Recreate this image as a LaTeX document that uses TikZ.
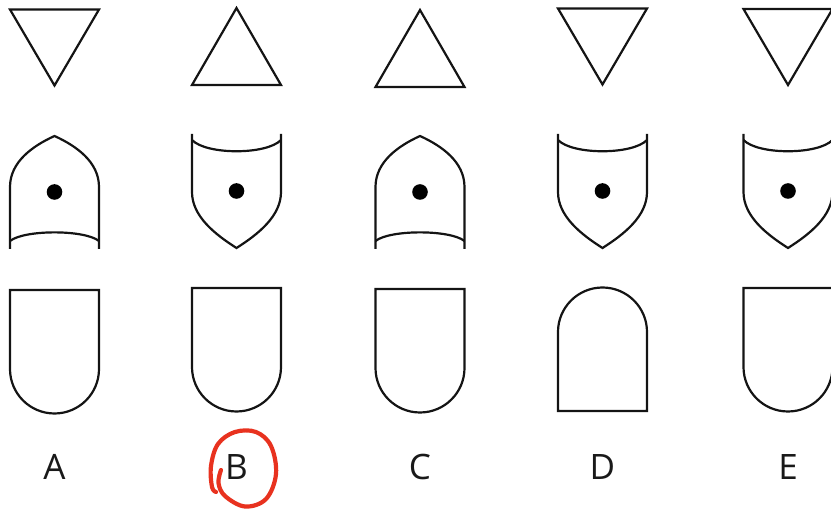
\documentclass[tikz,border=0pt]{standalone}
\usepackage{fontspec}
\setmainfont{Open Sans}
\definecolor{penred}{HTML}{E8321F}
\tikzset{
  shp/.style={draw=black!92, line width=2.2pt, line join=miter},
  lbl/.style={anchor=base, inner sep=0pt, font=\fontsize{35}{40}\selectfont, text=black!90},
  pointed/.pic={
    \draw[shp] (-44.5,249) -- (-44.5,187) .. controls (-44.5,162) and (-22,146) .. (0,136)
      .. controls (22,146) and (44.5,162) .. (44.5,187) -- (44.5,249);
    \draw[shp] (-44.5,241) .. controls (-30,229.5) and (30,229.5) .. (44.5,241);
    \fill[black] (0,192) circle[radius=7.8pt];
  },
  shield/.pic={
    \draw[shp] (-44.5,134) -- (-44.5,192) .. controls (-44.5,216) and (-22,234) .. (0,248)
      .. controls (22,234) and (44.5,216) .. (44.5,192) -- (44.5,134);
    \draw[shp] (-44.5,140) .. controls (-30,155) and (30,155) .. (44.5,140);
    \fill[black] (0,191) circle[radius=7.8pt];
  },
  tridown/.pic={
    \draw[shp] (-44.5,9.5) -- (44.5,9.5) -- (0,85.5) -- cycle;
  },
  triup/.pic={
    \draw[shp] (-44.5,86) -- (44.5,86) -- (0,9) -- cycle;
  },
  cup/.pic={
    \draw[shp] (-44.5,289) -- (44.5,289) -- (44.5,368) arc[start angle=0, end angle=-180, radius=44.5pt] -- cycle;
  },
  arch/.pic={
    \draw[shp] (-44.5,411) -- (44.5,411) -- (44.5,332) arc[start angle=0, end angle=180, radius=44.5pt] -- cycle;
  }
}
\begin{document}
\begin{tikzpicture}[x=1pt, y=-1pt]
\useasboundingbox (0,0) rectangle (831,510);
\begin{scope}
\clip (0,0) rectangle (831,510);
% row 1
\pic at (54.5,0) {tridown};
\pic at (236.5,-1) {triup};
\pic at (420,1) {triup};
\pic at (602.5,-1) {tridown};
\pic at (788,-0.5) {tridown};
% row 2
\pic at (54.5,0) {pointed};
\pic at (236.5,0) {shield};
\pic at (420,0) {pointed};
\pic at (602.5,0) {shield};
\pic at (788,0) {shield};
% row 3
\pic at (54.5,1) {cup};
\pic at (236.5,-1) {cup};
\pic at (420,0) {cup};
\pic at (602.5,0) {arch};
\pic at (788,-1) {cup};
\end{scope}
% labels
\node[lbl] (la) at (54.5,480) {A};
\node[lbl] (lb) at (236.5,480) {B};
\node[lbl] (lc) at (420,480) {C};
\node[lbl] (ld) at (602.5,480) {D};
\node[lbl] (le) at (788,480) {E};
% red circle
\draw[penred, line width=4.2pt, line cap=round, line join=round]
  plot[smooth, tension=0.6] coordinates {(221,470) (218.5,483) (225,496) (245,506.5) (266,499) (276,474) (271,446) (256,432) (235,432) (218,444) (211,466) (212,487) (216,492)};
\end{tikzpicture}
\end{document}
